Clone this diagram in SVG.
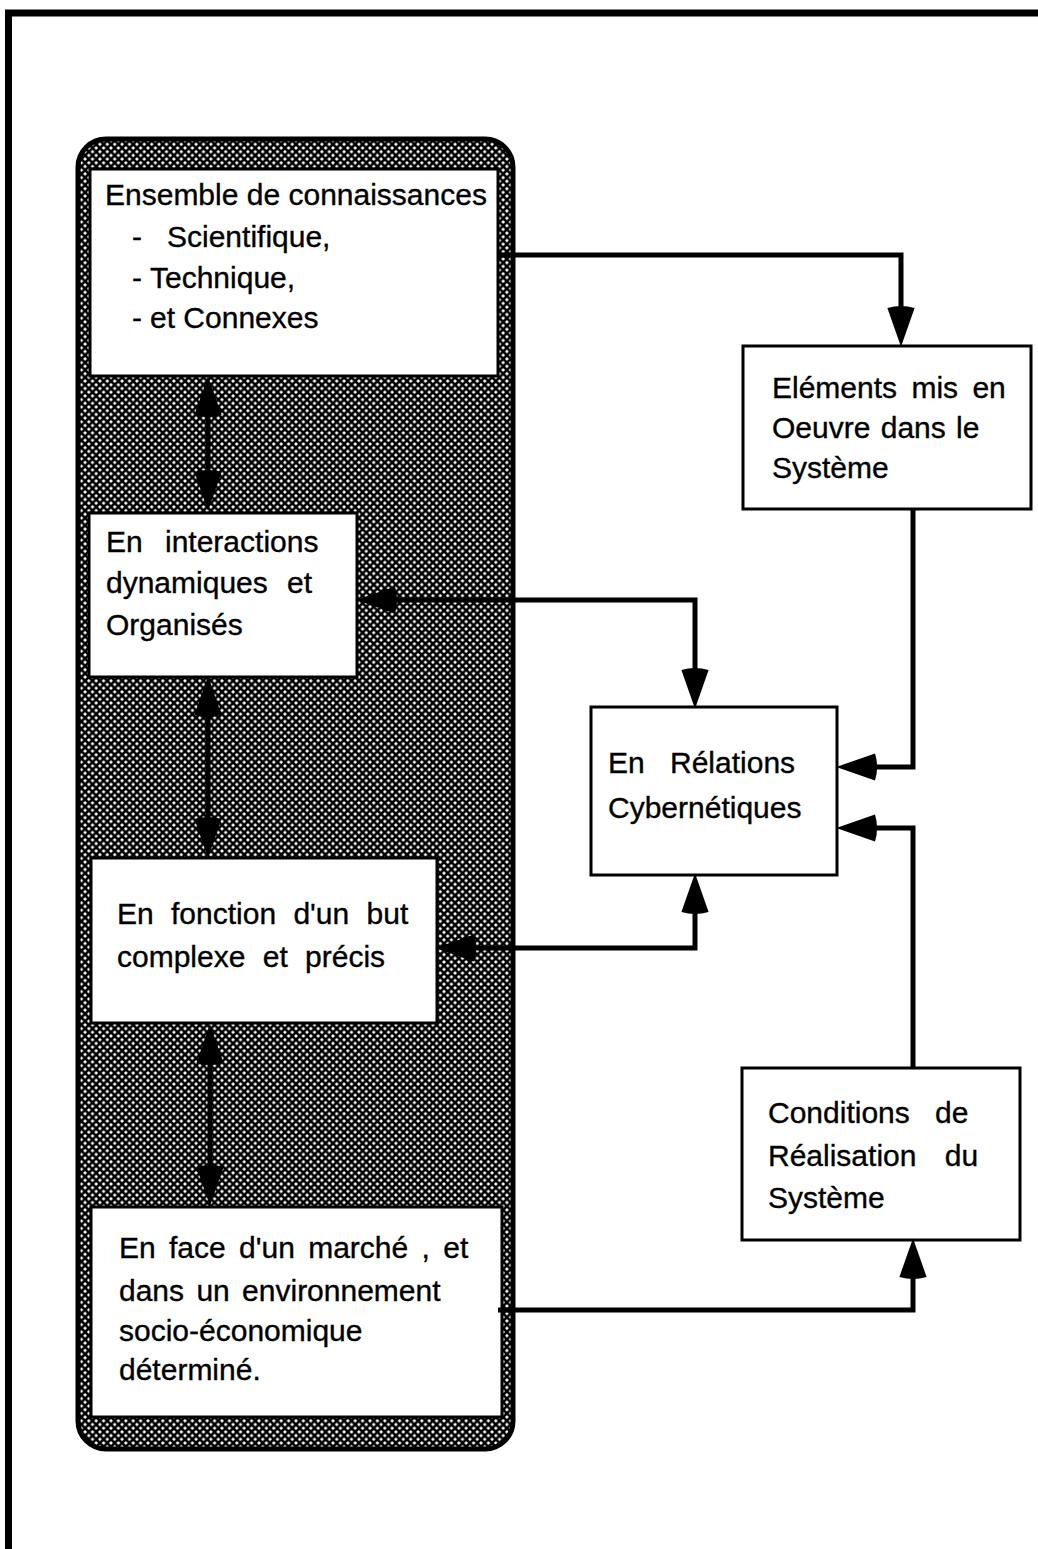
<svg xmlns="http://www.w3.org/2000/svg" width="1038" height="1549" viewBox="0 0 1038 1549">
<defs>
<pattern id="hatch" patternUnits="userSpaceOnUse" width="7.4" height="7.4">
<rect width="7.4" height="7.4" fill="#000"/>
<path d="M0,-1.9 L1.9,0 L0,1.9 L-1.9,0 Z M7.4,-1.9 L9.3,0 L7.4,1.9 L5.5,0 Z M0,5.5 L1.9,7.4 L0,9.3 L-1.9,7.4 Z M7.4,5.5 L9.3,7.4 L7.4,9.3 L5.5,7.4 Z M3.7,1.8 L5.6,3.7 L3.7,5.6 L1.8,3.7 Z" fill="#fff"/>
</pattern>
<marker id="ah" markerUnits="userSpaceOnUse" markerWidth="44" markerHeight="32" viewBox="-4 -15 42 30" refX="0" refY="0" orient="auto-start-reverse">
<path d="M0,-13 Q-4,0 0,13 L37,0 Z" fill="#000"/>
</marker>
<style>
.frame{fill:none;stroke:#000;stroke-width:7}
.box{fill:#fff;stroke:#000;stroke-width:3}
.cont{fill:url(#hatch);stroke:#000;stroke-width:5}
.con{fill:none;stroke:#000;stroke-width:5;stroke-linejoin:miter}
.t{font-family:"Liberation Sans",Arial,Helvetica,sans-serif;font-size:30px;fill:#000;stroke:#000;stroke-width:0.35}
</style>
</defs>
<rect width="1038" height="1549" fill="#fff"/>
<path class="frame" d="M8.5,1549 V13 H1038"/>
<g id="container">
<rect class="cont" x="78" y="139" width="435" height="1310" rx="28" ry="28"/>
</g>
<g id="n1">
<rect class="box" x="90" y="169" width="408" height="207"/>
<text class="t" x="105" y="205">Ensemble de connaissances</text>
<text class="t" y="247"><tspan x="132">-</tspan><tspan x="167">Scientifique,</tspan></text>
<text class="t" y="288"><tspan x="132">-</tspan><tspan x="150">Technique,</tspan></text>
<text class="t" y="328"><tspan x="132">-</tspan><tspan x="150">et Connexes</tspan></text>
</g>
<g id="n2">
<rect class="box" x="89" y="513" width="268" height="164"/>
<text class="t" y="552"><tspan x="106">En</tspan><tspan x="165">interactions</tspan></text>
<text class="t" y="593"><tspan x="106">dynamiques</tspan><tspan x="287">et</tspan></text>
<text class="t" x="106" y="635">Organisés</text>
</g>
<g id="n3">
<rect class="box" x="91" y="858" width="346" height="165"/>
<text class="t" x="117" y="924" word-spacing="9">En fonction d'un but</text>
<text class="t" x="117" y="967" word-spacing="9">complexe et précis</text>
</g>
<g id="n4">
<rect class="box" x="91" y="1207" width="411" height="210"/>
<text class="t" x="119" y="1258" word-spacing="5">En face d'un marché , et</text>
<text class="t" x="119" y="1301" word-spacing="4">dans un environnement</text>
<text class="t" x="119" y="1341">socio-économique</text>
<text class="t" x="119" y="1380">déterminé.</text>
</g>
<g id="n5">
<rect class="box" x="743" y="346" width="288" height="163"/>
<text class="t" x="772" y="398" word-spacing="6">Eléments mis en</text>
<text class="t" x="772" y="438" word-spacing="2">Oeuvre dans le</text>
<text class="t" x="772" y="478">Système</text>
</g>
<g id="n6">
<rect class="box" x="591" y="707" width="246" height="168"/>
<text class="t" y="773"><tspan x="608">En</tspan><tspan x="670">Rélations</tspan></text>
<text class="t" x="608" y="818">Cybernétiques</text>
</g>
<g id="n7">
<rect class="box" x="742" y="1068" width="278" height="172"/>
<text class="t" x="768" y="1123" word-spacing="17">Conditions de</text>
<text class="t" x="768" y="1166" word-spacing="20">Réalisation du</text>
<text class="t" x="768" y="1208">Système</text>
</g>
<g id="connectors">
<path class="con" d="M497,255 H901 V308" marker-end="url(#ah)"/>
<path class="con" d="M395,600 H695 V670" marker-start="url(#ah)" marker-end="url(#ah)"/>
<path class="con" d="M474,948 H695 V912" marker-start="url(#ah)" marker-end="url(#ah)"/>
<path class="con" d="M913,509 V767 H875" marker-end="url(#ah)"/>
<path class="con" d="M913,1068 V828 H875" marker-end="url(#ah)"/>
<path class="con" d="M498,1310 H913 V1277" marker-end="url(#ah)"/>
<path class="con" d="M208,415 V472" marker-start="url(#ah)" marker-end="url(#ah)"/>
<path class="con" d="M208,715 V819" marker-start="url(#ah)" marker-end="url(#ah)"/>
<path class="con" d="M210,1063 V1167" marker-start="url(#ah)" marker-end="url(#ah)"/>
</g>
</svg>
